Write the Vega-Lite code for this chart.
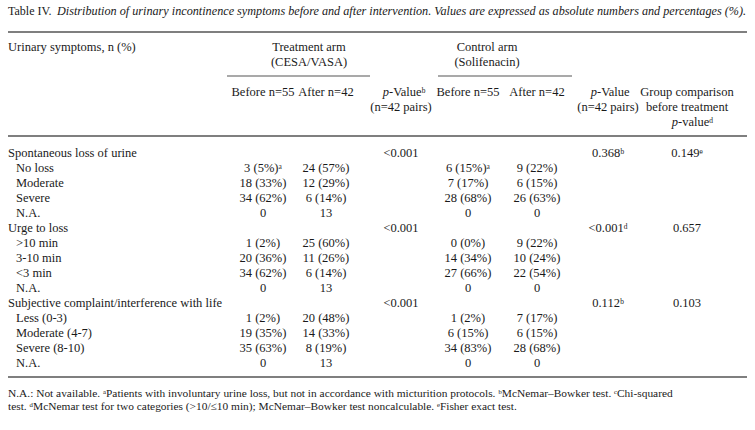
{
  "$schema": "https://vega.github.io/schema/vega-lite/v6.json",
  "width": 755,
  "height": 430,
  "padding": 0,
  "autosize": {"type": "none"},
  "background": "white",
  "config": {"view": {"stroke": null}, "axis": {"disable": true}},
  "datasets": {
    "lines": [
      {"c1": 0, "c2": 11, "row": 0, "kind": "main"},
      {"c1": 12, "c2": 13, "row": 3, "kind": "sub"},
      {"c1": 14, "c2": 15, "row": 3, "kind": "sub"},
      {"c1": 0, "c2": 11, "row": 7, "kind": "main"},
      {"c1": 0, "c2": 11, "row": 23, "kind": "main"}
    ],
    "left": [
      {"col": 0, "row": 1, "text": "Urinary symptoms, n (%)"},
      {"col": 0, "row": 8, "text": "Spontaneous loss of urine"},
      {"col": 1, "row": 9, "text": "No loss"},
      {"col": 1, "row": 10, "text": "Moderate"},
      {"col": 1, "row": 11, "text": "Severe"},
      {"col": 1, "row": 12, "text": "N.A."},
      {"col": 0, "row": 13, "text": "Urge to loss"},
      {"col": 1, "row": 14, "text": ">10 min"},
      {"col": 1, "row": 15, "text": "3-10 min"},
      {"col": 1, "row": 16, "text": "<3 min"},
      {"col": 1, "row": 17, "text": "N.A."},
      {"col": 0, "row": 18, "text": "Subjective complaint/interference with life"},
      {"col": 1, "row": 19, "text": "Less (0-3)"},
      {"col": 1, "row": 20, "text": "Moderate (4-7)"},
      {"col": 1, "row": 21, "text": "Severe (8-10)"},
      {"col": 1, "row": 22, "text": "N.A."},
      {"col": 17, "row": 4, "text": "-Valueᵇ"},
      {"col": 18, "row": 4, "text": "-Value"},
      {"col": 19, "row": 6, "text": "-valueᵈ"}
    ],
    "italicP": [
      {"col": 17, "row": 4, "text": "p"},
      {"col": 18, "row": 4, "text": "p"},
      {"col": 19, "row": 6, "text": "p"}
    ],
    "cells": [
      {"col": 9, "row": 1, "text": "Treatment arm"},
      {"col": 9, "row": 2, "text": "(CESA/VASA)"},
      {"col": 10, "row": 1, "text": "Control arm"},
      {"col": 10, "row": 2, "text": "(Solifenacin)"},
      {"col": 2, "row": 4, "text": "Before n=55"},
      {"col": 3, "row": 4, "text": "After n=42"},
      {"col": 4, "row": 5, "text": "(n=42 pairs)"},
      {"col": 5, "row": 4, "text": "Before n=55"},
      {"col": 6, "row": 4, "text": "After n=42"},
      {"col": 7, "row": 5, "text": "(n=42 pairs)"},
      {"col": 8, "row": 4, "text": "Group comparison"},
      {"col": 8, "row": 5, "text": "before treatment"},
      {"col": 4, "row": 8, "text": "<0.001"},
      {"col": 7, "row": 8, "text": "0.368ᵇ"},
      {"col": 8, "row": 8, "text": "0.149ᵉ"},
      {"col": 2, "row": 9, "text": "3 (5%)ᵃ"},
      {"col": 3, "row": 9, "text": "24 (57%)"},
      {"col": 5, "row": 9, "text": "6 (15%)ᵃ"},
      {"col": 6, "row": 9, "text": "9 (22%)"},
      {"col": 2, "row": 10, "text": "18 (33%)"},
      {"col": 3, "row": 10, "text": "12 (29%)"},
      {"col": 5, "row": 10, "text": "7 (17%)"},
      {"col": 6, "row": 10, "text": "6 (15%)"},
      {"col": 2, "row": 11, "text": "34 (62%)"},
      {"col": 3, "row": 11, "text": "6 (14%)"},
      {"col": 5, "row": 11, "text": "28 (68%)"},
      {"col": 6, "row": 11, "text": "26 (63%)"},
      {"col": 2, "row": 12, "text": "0"},
      {"col": 3, "row": 12, "text": "13"},
      {"col": 5, "row": 12, "text": "0"},
      {"col": 6, "row": 12, "text": "0"},
      {"col": 4, "row": 13, "text": "<0.001"},
      {"col": 7, "row": 13, "text": "<0.001ᵈ"},
      {"col": 8, "row": 13, "text": "0.657"},
      {"col": 2, "row": 14, "text": "1 (2%)"},
      {"col": 3, "row": 14, "text": "25 (60%)"},
      {"col": 5, "row": 14, "text": "0 (0%)"},
      {"col": 6, "row": 14, "text": "9 (22%)"},
      {"col": 2, "row": 15, "text": "20 (36%)"},
      {"col": 3, "row": 15, "text": "11 (26%)"},
      {"col": 5, "row": 15, "text": "14 (34%)"},
      {"col": 6, "row": 15, "text": "10 (24%)"},
      {"col": 2, "row": 16, "text": "34 (62%)"},
      {"col": 3, "row": 16, "text": "6 (14%)"},
      {"col": 5, "row": 16, "text": "27 (66%)"},
      {"col": 6, "row": 16, "text": "22 (54%)"},
      {"col": 2, "row": 17, "text": "0"},
      {"col": 3, "row": 17, "text": "13"},
      {"col": 5, "row": 17, "text": "0"},
      {"col": 6, "row": 17, "text": "0"},
      {"col": 4, "row": 18, "text": "<0.001"},
      {"col": 7, "row": 18, "text": "0.112ᵇ"},
      {"col": 8, "row": 18, "text": "0.103"},
      {"col": 2, "row": 19, "text": "1 (2%)"},
      {"col": 3, "row": 19, "text": "20 (48%)"},
      {"col": 5, "row": 19, "text": "1 (2%)"},
      {"col": 6, "row": 19, "text": "7 (17%)"},
      {"col": 2, "row": 20, "text": "19 (35%)"},
      {"col": 3, "row": 20, "text": "14 (33%)"},
      {"col": 5, "row": 20, "text": "6 (15%)"},
      {"col": 6, "row": 20, "text": "6 (15%)"},
      {"col": 2, "row": 21, "text": "35 (63%)"},
      {"col": 3, "row": 21, "text": "8 (19%)"},
      {"col": 5, "row": 21, "text": "34 (83%)"},
      {"col": 6, "row": 21, "text": "28 (68%)"},
      {"col": 2, "row": 22, "text": "0"},
      {"col": 3, "row": 22, "text": "13"},
      {"col": 5, "row": 22, "text": "0"},
      {"col": 6, "row": 22, "text": "0"}
    ],
    "notes": [
      {"col": 0, "row": 24, "text": "N.A.: Not available. ᵃPatients with involuntary urine loss, but not in accordance with micturition protocols. ᵇMcNemar–Bowker test. ᶜChi-squared"},
      {"col": 0, "row": 25, "text": "test. ᵈMcNemar test for two categories (>10/≤10 min); McNemar–Bowker test noncalculable. ᵉFisher exact test."}
    ],
    "titleA": [{"col": 0, "row": -1, "text": "Table IV."}],
    "titleB": [{"col": 16, "row": -1, "text": "Distribution of urinary incontinence symptoms before and after intervention. Values are expressed as absolute numbers and percentages (%)."}]
  },
  "encoding": {
    "x": {"field": "col", "type": "quantitative", "axis": null,
      "scale": {"domain": [0, 1, 2, 3, 4, 5, 6, 7, 8, 9, 10, 11, 12, 13, 14, 15, 16, 17, 18, 19],
                "range": [8, 16, 263, 326, 401, 468, 537, 608, 687, 309, 487, 747, 227, 370, 438, 572, 57, 389, 597, 678],
                "zero": false, "nice": false, "clamp": false}},
    "y": {"field": "row", "type": "quantitative", "axis": null,
      "scale": {"domain": [-1, 0, 1, 2, 3, 4, 5, 6, 7, 8, 22, 23, 24, 25],
                "range": [11, 32, 47, 62, 76, 92, 107, 122, 136, 153, 363, 377, 394, 407],
                "zero": false, "nice": false}}
  },
  "layer": [
    {
      "data": {"name": "lines"},
      "mark": {"type": "rule", "color": "#555555"},
      "encoding": {
        "x": {"field": "c1", "type": "quantitative"},
        "x2": {"field": "c2"},
        "y": {"field": "row", "type": "quantitative"},
        "strokeWidth": {"field": "kind", "type": "nominal", "legend": null,
          "scale": {"domain": ["main", "sub"], "range": [1.4, 1.1]}}
      }
    },
    {
      "data": {"name": "left"},
      "mark": {"type": "text", "align": "left", "baseline": "middle", "font": "Liberation Serif", "fontSize": 12.5, "color": "#1a1a1a"},
      "encoding": {"text": {"field": "text"}}
    },
    {
      "data": {"name": "italicP"},
      "mark": {"type": "text", "align": "right", "baseline": "middle", "font": "Liberation Serif", "fontStyle": "italic", "fontSize": 12.5, "color": "#1a1a1a"},
      "encoding": {"text": {"field": "text"}}
    },
    {
      "data": {"name": "cells"},
      "mark": {"type": "text", "align": "center", "baseline": "middle", "font": "Liberation Serif", "fontSize": 12.5, "color": "#1a1a1a"},
      "encoding": {"text": {"field": "text"}}
    },
    {
      "data": {"name": "notes"},
      "mark": {"type": "text", "align": "left", "baseline": "middle", "font": "Liberation Serif", "fontSize": 11.4, "color": "#1a1a1a"},
      "encoding": {"text": {"field": "text"}}
    },
    {
      "data": {"name": "titleA"},
      "mark": {"type": "text", "align": "left", "baseline": "middle", "font": "Liberation Serif", "fontSize": 12, "color": "#1a1a1a"},
      "encoding": {"text": {"field": "text"}}
    },
    {
      "data": {"name": "titleB"},
      "mark": {"type": "text", "align": "left", "baseline": "middle", "font": "Liberation Serif", "fontStyle": "italic", "fontSize": 12.2, "color": "#1a1a1a"},
      "encoding": {"text": {"field": "text"}}
    }
  ]
}
